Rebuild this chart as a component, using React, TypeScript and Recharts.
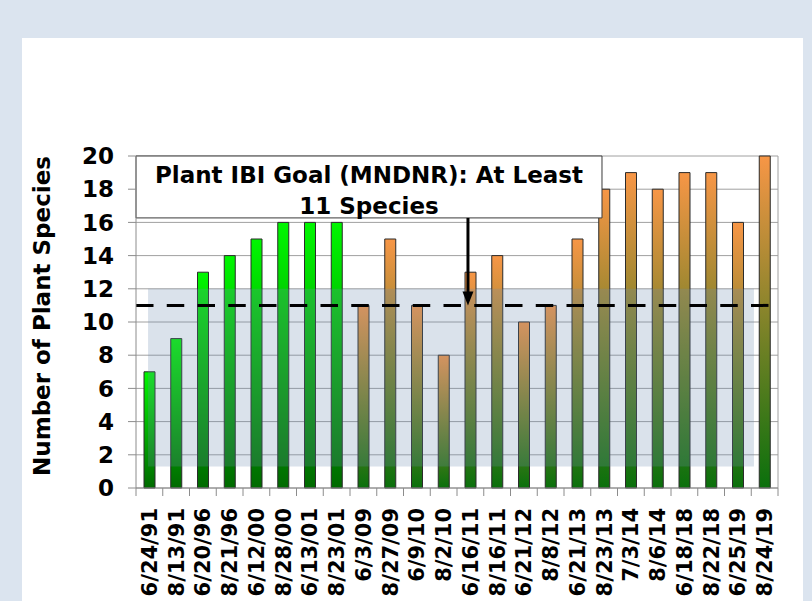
import { BarChart, Bar, XAxis, YAxis, CartesianGrid, ReferenceLine, ReferenceArea, Label } from 'recharts';

// survey dates and species counts
const surveyDates = [
  '6/24/91', '8/13/91', '6/20/96', '8/21/96', '6/12/00', '8/28/00', '6/13/01', '8/23/01',
  '6/3/09', '8/27/09', '6/9/10', '8/2/10', '6/16/11', '8/16/11', '6/21/12', '8/8/12',
  '6/21/13', '8/23/13', '7/3/14', '8/6/14', '6/18/18', '8/22/18', '6/25/19', '8/24/19',
];
const earlySpecies = [7, 9, 13, 14, 15, 16, 16, 16, null, null, null, null, null, null, null, null, null, null, null, null, null, null, null, null];
const recentSpecies = [null, null, null, null, null, null, null, null, 11, 15, 11, 8, 13, 14, 10, 11, 15, 18, 19, 18, 19, 19, 16, 20];
const yTicks = [0, 2, 4, 6, 8, 10, 12, 14, 16, 18, 20];

const goalValue = 11;
const bandLow = 1.3;
const bandHigh = 12;
const goalLines = ['Plant IBI Goal (MNDNR): At Least', '11 Species'];
const yTitle = 'Number of Plant Species';

// slot = centre of each category on a 0..N scale (used by the hidden numeric axis)
const data = surveyDates.map((date, i) => ({ date, slot: i + 0.5, early: earlySpecies[i], recent: recentSpecies[i] }));

const FONT = "'DejaVu Sans', sans-serif";
const GRID = '#a0a0a0';
const AXIS = '#8c8c8c';

function DateTick(props: any) {
  const { x, y, payload, index } = props;
  const band = (props.width || 642) / surveyDates.length;
  const left = x - band / 2;
  const lx = x + 7.5;
  const ly = y + 20;
  return (
    <g>
      <line x1={left} x2={left} y1={y} y2={y + 8} stroke={AXIS} />
      {index === surveyDates.length - 1 && <line x1={left + band} x2={left + band} y1={y} y2={y + 8} stroke={AXIS} />}
      <text x={lx} y={ly} transform={`rotate(-90, ${lx}, ${ly})`} textAnchor="end" fill="#000" fontSize={21} fontWeight="bold" fontFamily={FONT}>
        {payload.value}
      </text>
    </g>
  );
}

function YTitle(props: any) {
  const vb = props.viewBox || { x: 36, y: 156, width: 100, height: 332 };
  const x = vb.x + 14;
  const y = vb.y + vb.height / 2 - 6;
  return (
    <text x={x} y={y} transform={`rotate(-90, ${x}, ${y})`} textAnchor="middle" fill="#000" fontSize={23} fontWeight="bold" fontFamily={FONT}>
      {yTitle}
    </text>
  );
}

function GoalText(props: any) {
  const vb = props.viewBox;
  if (!vb) return null;
  const cx = vb.x + vb.width / 2;
  return (
    <g>
      <text x={cx} y={vb.y + 27} textAnchor="middle" fill="#000" fontSize={23} fontWeight="bold" fontFamily={FONT}>{goalLines[0]}</text>
      <text x={cx} y={vb.y + 58} textAnchor="middle" fill="#000" fontSize={23} fontWeight="bold" fontFamily={FONT}>{goalLines[1]}</text>
    </g>
  );
}

function Arrow(props: any) {
  const { x1, y1, x2, y2 } = props;
  if (x1 == null) return null;
  return (
    <g>
      <line x1={x1} y1={y1} x2={x2} y2={y2 - 12} stroke="#000" strokeWidth={3} />
      <polygon points={`${x2 - 5.5},${y2 - 14} ${x2 + 5.5},${y2 - 14} ${x2},${y2}`} fill="#000" />
    </g>
  );
}

export default function App() {
  return (
    <div style={{ position: 'absolute', left: 0, top: 0, width: 812, height: 601, background: '#dbe4ef', overflow: 'hidden' }}>
      <div style={{ position: 'absolute', left: 22, top: 38, width: 781, height: 563, background: '#fff' }} />
      <div style={{ position: 'absolute', left: 0, top: 0 }}>
        <BarChart width={812} height={601} data={data} margin={{ top: 156, right: 34, bottom: 0, left: 36 }} barSize={11}>
          <defs>
            <linearGradient id="greenFill" x1="0" y1="0" x2="0" y2="1">
              <stop offset="0%" stopColor="#00f700" />
              <stop offset="100%" stopColor="#006a00" />
            </linearGradient>
            <linearGradient id="orangeFill" x1="0" y1="0" x2="0" y2="1">
              <stop offset="0%" stopColor="#f79646" />
              <stop offset="100%" stopColor="#0a700c" />
            </linearGradient>
          </defs>
          <CartesianGrid vertical={false} stroke={GRID} />
          <XAxis
            dataKey="date"
            height={113}
            interval={0}
            tickLine={false}
            tickSize={0}
            tickMargin={0}
            axisLine={{ stroke: AXIS }}
            tick={<DateTick />}
          />
          <XAxis xAxisId="pos" dataKey="slot" type="number" scale="linear" domain={[0, surveyDates.length]} allowDataOverflow hide />
          <YAxis
            width={100}
            domain={[0, 20]}
            ticks={yTicks}
            interval={0}
            tickSize={8}
            tickMargin={14}
            tickLine={{ stroke: AXIS }}
            axisLine={{ stroke: AXIS }}
            tick={{ fill: '#000', fontSize: 23, fontWeight: 'bold', fontFamily: FONT }}
          >
            <Label content={<YTitle />} />
          </YAxis>
          <Bar dataKey="early" stackId="s" fill="url(#greenFill)" stroke="#2b2b2b" strokeWidth={1} isAnimationActive={false} />
          <Bar dataKey="recent" stackId="s" fill="url(#orangeFill)" stroke="#2b2b2b" strokeWidth={1} isAnimationActive={false} />
          <ReferenceArea xAxisId="pos" x1={0.45} x2={23.1} y1={bandLow} y2={bandHigh} fill="#6a8bb0" fillOpacity={0.25} stroke="none" zIndex={350} />
          <ReferenceLine y={goalValue} stroke="#000" strokeWidth={3} strokeDasharray="17.5 13.25" />
          <ReferenceLine xAxisId="pos" x={24} stroke={GRID} />
          <ReferenceArea xAxisId="pos" x1={0} x2={17.42} y1={16.27} y2={20} fill="#fff" fillOpacity={1} stroke="#3a3a3a" strokeWidth={1} label={GoalText} zIndex={450} />
          <ReferenceLine xAxisId="pos" segment={[{ x: 12.41, y: 16.27 }, { x: 12.41, y: goalValue }]} shape={Arrow} zIndex={460} />
        </BarChart>
      </div>
    </div>
  );
}
